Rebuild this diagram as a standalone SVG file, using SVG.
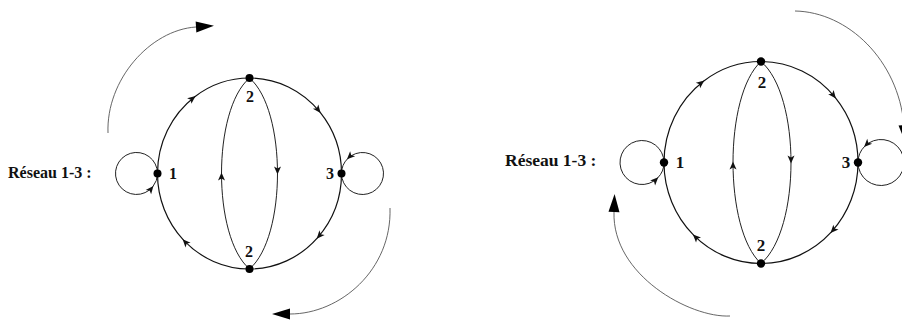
<svg xmlns="http://www.w3.org/2000/svg" width="902" height="322" viewBox="0 0 902 322">
<style>
.edge{fill:none;stroke:#111;stroke-width:1.2;marker-mid:url(#mid)}
.lens{fill:none;stroke:#222;stroke-width:1;marker-mid:url(#mid)}
.big{fill:none;stroke:#555;stroke-width:0.9;marker-end:url(#big)}
.dot{fill:#000}
.lbl{font-family:"Liberation Serif","DejaVu Serif",serif;font-weight:bold;fill:#111;text-anchor:middle}
.title{font-family:"Liberation Serif","DejaVu Serif",serif;font-weight:bold;fill:#111}
</style>
<defs>
<marker id="mid" viewBox="-8 -6 12 12" markerWidth="12" markerHeight="12" refX="0" refY="0" orient="auto" markerUnits="userSpaceOnUse"><path d="M-7,-3.5 L1,0 L-7,3.5 L-5,0 z" fill="#111"/></marker>
<marker id="big" viewBox="-2 -7 22 14" markerWidth="22" markerHeight="14" refX="0" refY="0" orient="auto" markerUnits="userSpaceOnUse"><path d="M0,-5.5 L18,0 L0,5.5 z" fill="#000"/></marker>
</defs>

<!-- Left diagram -->
<g id="left-connectors">
<path class="edge" d="M157.5,173.5 A92,95.5 0 0 1 194.8,96.7 A92,95.5 0 0 1 249.5,78"/>
<path class="edge" d="M249.5,78 A92,95.5 0 0 1 320,112.1 A92,95.5 0 0 1 341.5,173.5"/>
<path class="edge" d="M341.5,173.5 A92,95.5 0 0 1 317.4,237.9 A92,95.5 0 0 1 249.5,269"/>
<path class="edge" d="M249.5,269 A92,95.5 0 0 1 183.3,239.9 A92,95.5 0 0 1 157.5,173.5"/>
<path class="lens" d="M249.5,269 C230.85,253 221.5,213.25 221.5,173.5 C221.5,133.75 230.85,94 249.5,78"/>
<path class="lens" d="M249.5,78 C268.15,94 277.5,133.75 277.5,173.5 C277.5,213.25 268.15,253 249.5,269"/>
<path class="lens" d="M157.5,173.5 A21,21 0 1 0 152.8,186.7 A21,21 0 0 0 157.5,173.5"/>
<path class="lens" d="M341.5,173.5 A21,21 0 1 0 347.65,158.65 A21,21 0 0 0 341.5,173.5"/>
<path class="big" d="M108,133 C106,80 150,30 196,27"/>
<path class="big" d="M390,208 C392,270 340,314 290,314"/>
</g>
<text class="title" x="8" y="178" font-size="16">Réseau 1-3 :</text>
<g id="L1"><circle class="dot" cx="157.5" cy="173.5" r="4"/><text class="lbl" x="173" y="178.5" font-size="16">1</text></g>
<g id="L2top"><circle class="dot" cx="249.5" cy="78" r="4"/><text class="lbl" x="250" y="101.5" font-size="16">2</text></g>
<g id="L3"><circle class="dot" cx="341.5" cy="173.5" r="4"/><text class="lbl" x="330" y="178.5" font-size="16">3</text></g>
<g id="L2bot"><circle class="dot" cx="249.5" cy="269" r="4"/><text class="lbl" x="249" y="257" font-size="16">2</text></g>

<!-- Right diagram -->
<g id="right-connectors">
<path class="edge" d="M664,162.5 A97,101 0 0 1 703.5,81.2 A97,101 0 0 1 761,61.5"/>
<path class="edge" d="M761,61.5 A97,101 0 0 1 835.3,97.6 A97,101 0 0 1 858,162.5"/>
<path class="edge" d="M858,162.5 A97,101 0 0 1 831.2,232.2 A97,101 0 0 1 761,263.5"/>
<path class="edge" d="M761,263.5 A97,101 0 0 1 693.6,235.1 A97,101 0 0 1 664,162.5"/>
<path class="lens" d="M761,263.5 C742.35,246.5 733,204.5 733,162.5 C733,120.5 742.35,78.5 761,61.5"/>
<path class="lens" d="M761,61.5 C781,78.5 791,120.5 791,162.5 C791,204.5 781,246.5 761,263.5"/>
<path class="lens" d="M664,162.5 A22,22 0 1 0 657.56,178.06 A22,22 0 0 0 664,162.5"/>
<path class="lens" d="M858,162.5 A23,23 0 1 0 864.74,146.24 A23,23 0 0 0 858,162.5"/>
<path class="big" d="M730,316 C690,318 612,275 614,212"/>
<path class="big" d="M795,11 C848,12 898,60 904,125"/>
</g>
<text class="title" x="505" y="166" font-size="17.5">Réseau 1-3 :</text>
<g id="R1"><circle class="dot" cx="664" cy="162.5" r="4.2"/><text class="lbl" x="680" y="167.5" font-size="17">1</text></g>
<g id="R2top"><circle class="dot" cx="761" cy="61.5" r="4.2"/><text class="lbl" x="762" y="87.5" font-size="17">2</text></g>
<g id="R3"><circle class="dot" cx="858" cy="162.5" r="4.2"/><text class="lbl" x="846" y="168" font-size="17">3</text></g>
<g id="R2bot"><circle class="dot" cx="761" cy="263.5" r="4.2"/><text class="lbl" x="761" y="251" font-size="17">2</text></g>
</svg>
